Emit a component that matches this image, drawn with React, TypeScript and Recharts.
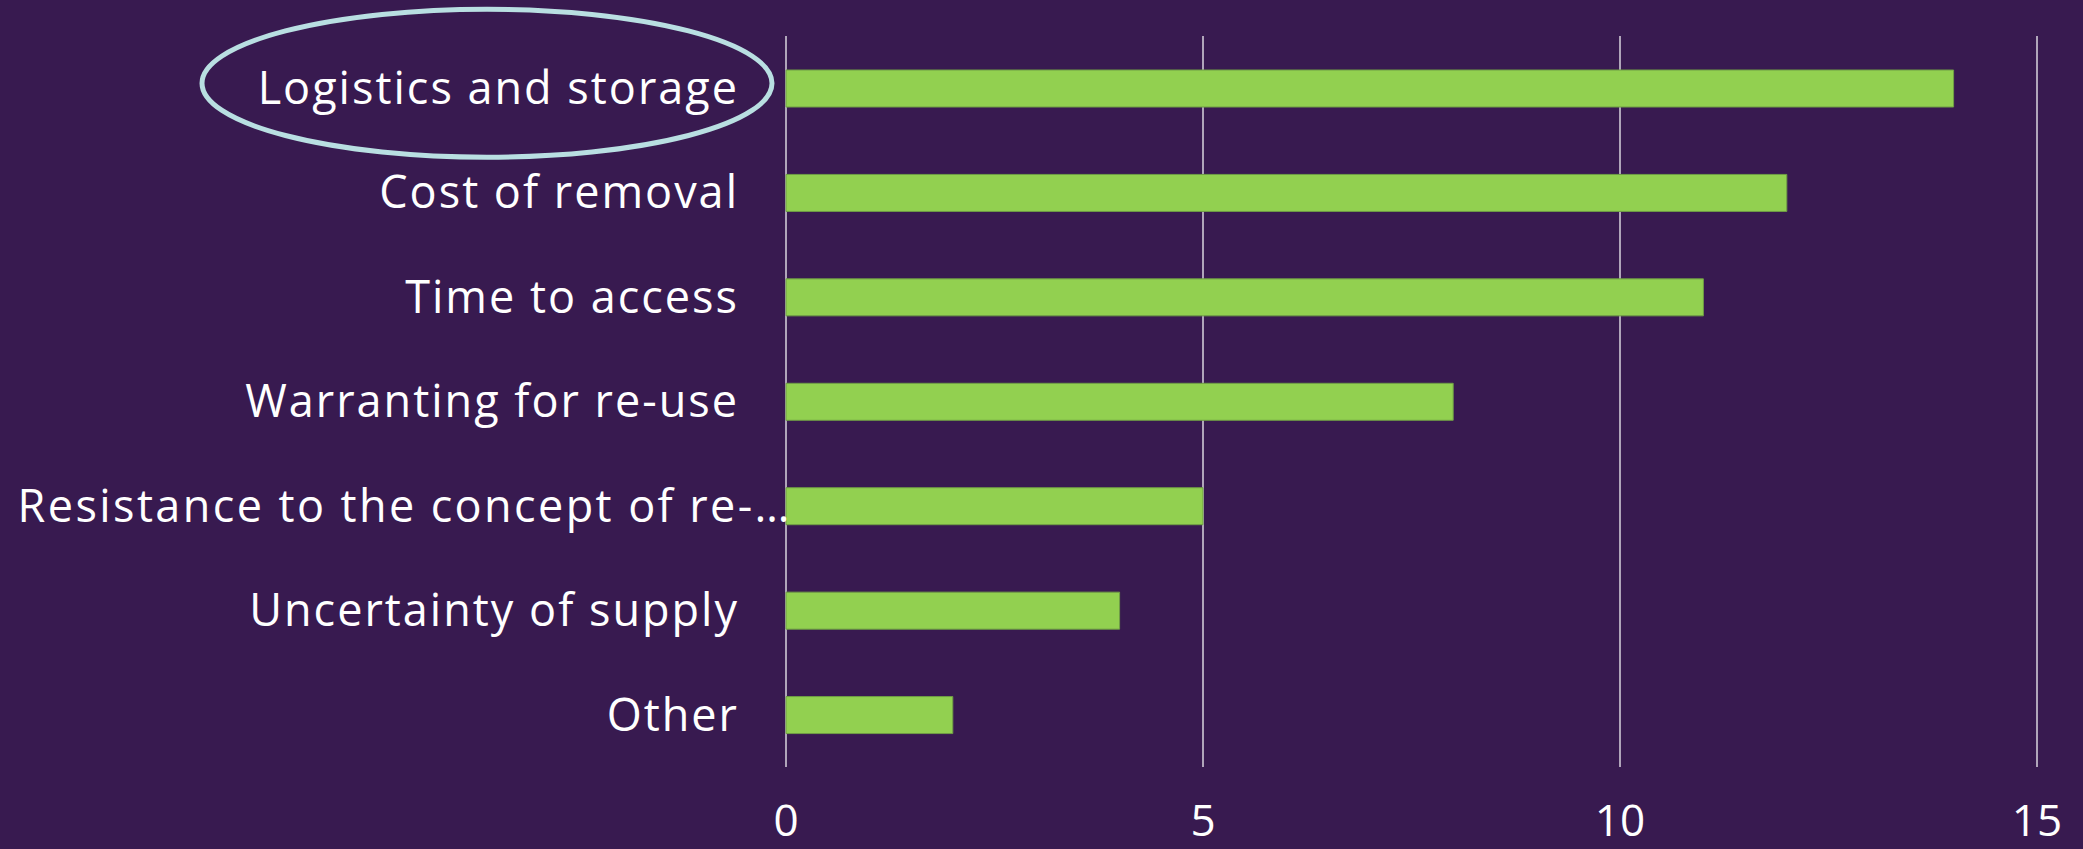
import { BarChart, Bar, XAxis, YAxis, CartesianGrid } from "recharts";

const categories = [
  "Logistics and storage",
  "Cost of removal",
  "Time to access",
  "Warranting for re-use",
  "Resistance to the concept of re-…",
  "Uncertainty of supply",
  "Other",
];

const responses = [14, 12, 11, 8, 5, 4, 2];

const xTicks = [0, 5, 10, 15];

const data = categories.map((name, i) => ({ name, value: responses[i] }));

const FONT = "'Open Sans', 'Noto Sans', sans-serif";

const CategoryTick = (props: any) => {
  const { x, y, payload, index } = props;
  const long = payload.value.length > 30;
  return (
    <g>
      {index === 0 && (
        <ellipse
          cx={x - 250}
          cy={y - 5}
          rx={285}
          ry={74}
          fill="none"
          stroke="#b9dfe2"
          strokeWidth={5}
        />
      )}
      <text
        x={(long ? x + 53 : x) + 2}
        y={y}
        dy="0.35em"
        textAnchor="end"
        fill="#ffffff"
        fontSize={45}
        letterSpacing={long ? 2.4 : 2}
        fontFamily={FONT}
      >
        {payload.value}
      </text>
    </g>
  );
};

const App = () => {
  return (
    <div style={{ position: "absolute", left: 0, top: 0, width: 2083, height: 849, background: "#381a50" }}>
      <BarChart
        width={2083}
        height={849}
        data={data}
        layout="vertical"
        margin={{ top: 36, right: 46, bottom: 0, left: 0 }}
      >
        <CartesianGrid horizontal={false} stroke="#d8d4de" strokeWidth={1.5} />
        <XAxis
          type="number"
          domain={[0, 15]}
          ticks={xTicks}
          axisLine={false}
          tickLine={false}
          tickSize={0}
          tickMargin={38}
          height={82}
          tick={{ fill: "#ffffff", fontSize: 44, fontFamily: FONT }}
        />
        <YAxis
          type="category"
          dataKey="name"
          width={786}
          axisLine={false}
          tickLine={false}
          tickSize={0}
          tickMargin={49}
          interval={0}
          tick={<CategoryTick />}
        />
        <Bar
          dataKey="value"
          fill="#92d050"
          stroke="#6f9d45"
          strokeWidth={1}
          barSize={37}
          isAnimationActive={false}
        />
      </BarChart>
    </div>
  );
};

export default App;
